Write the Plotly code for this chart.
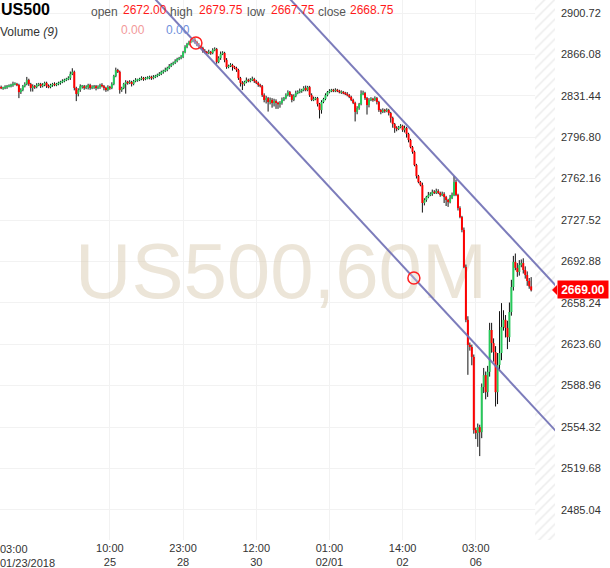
import plotly.graph_objects as go

# ---------------- data (US500, 60 minute bars) ----------------
first_open = 2838.5
closes = [
    2838.0, 2838.0, 2838.75, 2839.5, 2839.5, 2840.5, 2841.25, 2841.25, 2840.5, 2834.5,
    2836.25, 2839.5, 2841.25, 2844.75, 2841.25, 2838.0, 2839.5, 2838.75, 2840.5, 2841.25,
    2839.5, 2840.5, 2842.25, 2839.5, 2838.75, 2840.5, 2841.25, 2840.5, 2841.25, 2842.25,
    2843.0, 2843.75, 2844.75, 2845.5, 2846.25, 2849.75, 2851.5, 2838.0, 2833.0, 2836.25,
    2839.5, 2839.5, 2838.0, 2838.75, 2840.5, 2838.0, 2838.75, 2839.5, 2838.0, 2838.75,
    2840.5, 2839.5, 2838.0, 2836.25, 2838.75, 2838.0, 2841.25, 2848.0, 2853.0, 2851.5,
    2836.25, 2838.0, 2841.25, 2843.0, 2842.25, 2843.0, 2841.25, 2843.75, 2844.75, 2844.75,
    2845.5, 2846.25, 2845.5, 2846.25, 2846.25, 2847.25, 2846.25, 2847.25, 2848.0, 2849.0,
    2849.75, 2851.5, 2852.25, 2853.0, 2854.75, 2856.5, 2858.0, 2859.0, 2860.5, 2862.25,
    2863.0, 2864.0, 2868.0, 2872.25, 2874.75, 2876.5, 2877.25, 2878.25, 2876.5, 2874.0,
    2872.25, 2871.5, 2869.0, 2868.0, 2867.25, 2868.0, 2867.25, 2869.75, 2870.5, 2859.75,
    2863.0, 2866.5, 2867.25, 2861.5, 2855.5, 2856.5, 2857.25, 2855.5, 2854.75, 2853.0,
    2846.25, 2842.25, 2841.25, 2843.0, 2844.75, 2843.75, 2844.75, 2845.5, 2843.75, 2842.25,
    2840.5, 2839.5, 2832.0, 2828.0, 2829.5, 2826.25, 2828.0, 2825.5, 2827.0, 2825.5,
    2824.5, 2825.5, 2828.0, 2829.5, 2832.0, 2834.5, 2832.0, 2828.0, 2831.25, 2833.75,
    2834.5, 2835.5, 2836.25, 2838.0, 2836.25, 2838.75, 2832.0, 2828.0, 2828.75, 2829.5,
    2824.5, 2819.5, 2826.25, 2828.75, 2832.0, 2834.5, 2835.5, 2836.25, 2835.5, 2836.25,
    2835.5, 2834.5, 2834.5, 2833.75, 2833.0, 2832.0, 2830.5, 2828.0, 2825.5, 2818.0,
    2821.25, 2824.5, 2833.0, 2833.75, 2829.5, 2823.75, 2828.0, 2828.75, 2828.0, 2829.5,
    2826.25, 2819.5, 2818.0, 2819.5, 2818.75, 2819.5, 2817.0, 2813.0, 2807.75, 2804.5,
    2803.75, 2805.25, 2806.25, 2802.75, 2804.5, 2799.5, 2794.5, 2788.5, 2784.5, 2773.5,
    2764.25, 2759.25, 2756.75, 2741.75, 2744.25, 2746.75, 2748.5, 2749.25, 2751.0, 2750.25,
    2751.75, 2750.25, 2748.5, 2749.25, 2746.75, 2744.25, 2742.5, 2746.0, 2748.5, 2759.25,
    2748.5, 2737.5, 2730.0, 2719.25, 2688.25, 2644.0, 2623.0, 2621.25, 2613.0, 2551.75,
    2549.25, 2554.25, 2550.0, 2587.75, 2597.75, 2583.5, 2600.5, 2635.5, 2624.5, 2617.0,
    2583.5, 2606.25, 2616.25, 2638.0, 2644.0, 2637.25, 2629.5, 2650.5, 2671.5, 2692.5,
    2687.5, 2684.0, 2690.0, 2691.5, 2685.75, 2681.5, 2676.5, 2672.0, 2668.75,
]
wick_up = [
    1.5, 1, 1.5, 1, 1.5, 1, 2, 1.5, 1, 1,
    1.5, 1, 1.5, 2.5, 1, 1, 1.5, 1, 1.5, 1,
    1, 1.5, 1, 1, 1.5, 1, 1, 1.5, 1, 1,
    1, 1.5, 1, 1, 1.5, 2, 3, 1, 1, 1.5,
    1.5, 1, 1, 1.5, 1, 1, 1.5, 1, 1, 1.5,
    1, 1.5, 1, 1, 1.5, 1, 1.5, 1, 2, 1,
    1, 1, 1, 1.5, 1, 1.5, 1, 1, 1.5, 1,
    1, 1.5, 1, 1, 1.5, 1, 1, 1.5, 1, 1,
    1.5, 1, 1, 2, 1, 1.5, 1, 1, 1.5, 1,
    1, 1.5, 1, 1.5, 1, 1, 1.5, 1, 1.5, 1,
    1.5, 1, 1, 1.5, 1, 2, 1, 1.5, 1.5, 1,
    1.5, 2, 1.5, 1, 1.5, 1, 1.5, 1, 1, 1,
    1, 1, 1.5, 1, 2, 1, 1.5, 2, 1, 1,
    1, 1, 1, 1.5, 2, 1, 2, 1.5, 2, 1.5,
    1, 1.5, 2, 1, 1.5, 1.5, 1, 1, 1.5, 2,
    1.5, 2, 1, 1.5, 2, 1, 1, 1.5, 2, 1,
    1, 1, 1.5, 1, 1.5, 1, 1.5, 1, 1, 1.5,
    1, 1, 1.5, 1, 1, 1.5, 1, 1, 1, 1,
    1.5, 1, 3, 2, 1, 1, 1.5, 1.5, 1, 1.5,
    1, 1, 1, 1.5, 1, 1.5, 1, 1, 1, 1,
    1.5, 1, 1.5, 1, 2, 1, 1, 1, 1, 1,
    1, 1, 1, 2, 1.5, 1, 2.5, 1.5, 2, 1.5,
    2, 1.5, 1, 2, 1.5, 1, 1, 2.5, 2, 5,
    2, 1, 1.5, 1, 2, 2, 3, 2, 2, 2,
    2, 3, 2, 3, 6, 3, 5, 6, 6, 4,
    5, 10, 35, 20, 8, 4, 6, 8, 6, 5,
    7, 4, 4, 3, 4, 3, 3, 2.5, 7.75,
]
wick_dn = [
    1, 1.5, 1, 1.5, 1, 1, 1.5, 1, 1, 5,
    1.5, 1, 1, 1, 1.5, 3, 3, 1.5, 1, 1,
    1.5, 1, 1, 1.5, 1, 1, 1.5, 1, 1, 1,
    1.5, 1, 1, 1, 1, 1.5, 1, 2, 6, 2,
    1.5, 2, 1.5, 1, 2, 1.5, 1, 1.5, 2, 1,
    1.5, 1, 2, 1.5, 1, 1.5, 1, 1, 1, 1,
    3, 1.5, 1, 8, 1.5, 1, 2, 1, 1, 1.5,
    1, 1, 1.5, 1, 1, 1, 1.5, 1, 1, 1,
    1, 1, 1.5, 1, 1, 1, 1, 1, 1, 1,
    1, 1, 1, 1, 1, 1, 1, 1, 1.5, 1,
    1, 1, 1.5, 1, 1, 1, 1.5, 1, 1, 1.5,
    1, 1.5, 1, 2, 1.5, 1, 1, 3, 1, 1.5,
    1.5, 3, 5, 1.5, 1, 1, 1, 1, 1.5, 1,
    1.5, 1, 1.5, 2, 3, 8, 2, 4, 3, 5,
    4, 3, 1.5, 1, 1, 1, 1.5, 2, 1, 1,
    1, 1, 1.5, 1, 1, 1, 1.5, 1, 1, 1,
    2, 7, 3, 1, 1, 1, 1, 1, 1, 1,
    1, 1, 1.5, 1, 1, 1, 1, 1, 1, 8,
    2, 1.5, 1, 1, 1.5, 8, 2, 1, 1.5, 1,
    2, 1.5, 2, 1, 1.5, 1, 2, 4, 3, 4,
    2, 1, 1, 1.5, 2, 3, 2, 1, 1.5, 1,
    2, 1, 1, 8, 2, 1.5, 1, 1, 1.5, 1,
    1, 1, 1.5, 1, 5, 5, 4, 1, 1, 1,
    1, 2, 1, 2, 1, 2, 25, 3, 7, 3,
    5, 11.5, 20, 5, 5, 6, 4, 4, 8, 8,
    12, 10, 5, 6, 3, 8, 10, 4, 3, 3,
    2, 4, 3, 2, 3, 3, 4, 2, 1,
]

# trend channel drawn on the chart (bar index, price)
channel_lower_x = [70.0, 290.0]
channel_lower_y = [2926.4, 2534.0]
channel_upper_x = [140.0, 290.0]
channel_upper_y = [2923.2, 2655.6]
anchor_x = [98.5, 208.7]
anchor_y = [2875.6, 2679.0]

last_price = 2669.00

# axis ticks
y_ticks = [2900.72, 2866.08, 2831.44, 2796.80, 2762.16, 2727.52, 2692.88,
           2658.24, 2623.60, 2588.96, 2554.32, 2519.68, 2485.04]
x_tick_bars = [55, 92, 129, 166, 203, 240]
x_tick_text = ["10:00<br>25", "23:00<br>28", "12:00<br>30", "01:00<br>02/01",
               "14:00<br>02", "03:00<br>06"]
first_tick_text = "03:00<br>01/23/2018"

# header legend
hdr_labels = ["open", "high", "low", "close"]
hdr_values = ["2672.00", "2679.75", "2667.75", "2668.75"]
vol_values = ["0.00", "0.00"]

# ---------------- derived ----------------
n = len(closes)
opens = [first_open] + closes[:-1]
highs = [max(o, c) + u for o, c, u in zip(opens, closes, wick_up)]
lows = [min(o, c) - d for o, c, d in zip(opens, closes, wick_dn)]

X_RANGE = [-0.56, 280.05]
Y_RANGE = [2459.8, 2911.6]
PLOT_W, PLOT_H = 555, 540

FONT = "Liberation Sans, Arial, Helvetica, sans-serif"
GREEN = "#26c95a"
RED = "#ff0000"

fig = go.Figure()

# future (hatched) area
fig.add_trace(go.Bar(
    x=[(270.0 + X_RANGE[1]) / 2], y=[Y_RANGE[1] - Y_RANGE[0]], base=[Y_RANGE[0]],
    width=[X_RANGE[1] - 270.0],
    marker=dict(color="white", line=dict(width=0),
                pattern=dict(shape="/", fgcolor="#d9d9d9", bgcolor="white",
                             size=7, solidity=0.22)),
    hoverinfo="skip"))

# watermark
wm_x = X_RANGE[0] + (281 / PLOT_W) * (X_RANGE[1] - X_RANGE[0])
wm_y = Y_RANGE[1] - (278 / PLOT_H) * (Y_RANGE[1] - Y_RANGE[0])
fig.add_trace(go.Scatter(
    x=[wm_x], y=[wm_y], mode="text", text=["US500,60M"],
    textposition="middle center",
    textfont=dict(family=FONT, size=78, color="rgba(212,198,168,0.45)"),
    hoverinfo="skip"))

# wicks
wx, wy = [], []
for i in range(n):
    wx += [i, i, None]
    wy += [lows[i], highs[i], None]
fig.add_trace(go.Scatter(x=wx, y=wy, mode="lines",
                         line=dict(color="#111111", width=1), hoverinfo="skip"))

# bodies
def bodies(up):
    bx, by = [], []
    for i in range(n):
        o, c = opens[i], closes[i]
        if (c >= o) != up:
            continue
        lo, hi = min(o, c), max(o, c)
        if hi - lo < 1.2:
            m = (hi + lo) / 2
            lo, hi = m - 0.6, m + 0.6
        bx += [i, i, None]
        by += [lo, hi, None]
    return bx, by

gx, gy = bodies(True)
rx, ry = bodies(False)
fig.add_trace(go.Scatter(x=gx, y=gy, mode="lines", line=dict(color=GREEN, width=2),
                         hoverinfo="skip"))
fig.add_trace(go.Scatter(x=rx, y=ry, mode="lines", line=dict(color=RED, width=2),
                         hoverinfo="skip"))

# channel lines
for lx, ly in ((channel_lower_x, channel_lower_y), (channel_upper_x, channel_upper_y)):
    fig.add_trace(go.Scatter(x=lx, y=ly, mode="lines",
                             line=dict(color="rgba(110,110,180,0.9)", width=2),
                             hoverinfo="skip"))
fig.add_trace(go.Scatter(x=anchor_x, y=anchor_y, mode="markers",
                         marker=dict(symbol="circle", size=12,
                                     color="rgba(255,255,255,0.25)",
                                     line=dict(color="#ff2020", width=1.5)),
                         hoverinfo="skip"))

# ---------------- annotations ----------------
def px(xp):
    return xp / PLOT_W

def py(yp):
    return 1 - yp / PLOT_H

ann = []
ann.append(dict(text="<b>US500</b>", x=px(-1), y=py(10), font=dict(size=16, color="#000")))
hdr_lab_x = [91, 170, 247, 318]
hdr_val_x = [123, 199, 271, 350]
for lab, lx_ in zip(hdr_labels, hdr_lab_x):
    ann.append(dict(text=lab, x=px(lx_ - 2), y=py(12), font=dict(size=12, color="#555")))
for val, vx in zip(hdr_values, hdr_val_x):
    ann.append(dict(text=val, x=px(vx - 2), y=py(10), font=dict(size=12, color="#ff1a1a")))
ann.append(dict(text="Volume <i>(9)</i>", x=px(-2), y=py(32), font=dict(size=12, color="#333")))
ann.append(dict(text=vol_values[0], x=px(119), y=py(30), font=dict(size=12, color="#f29a9a")))
ann.append(dict(text=vol_values[1], x=px(164), y=py(30), font=dict(size=12, color="#6f8fdc")))
for a in ann:
    a.update(xref="paper", yref="paper", xanchor="left", yanchor="middle",
             showarrow=False)
    a["font"]["family"] = FONT

ann.append(dict(text=first_tick_text, xref="paper", yref="paper", x=px(-2), y=py(541),
                xanchor="left", yanchor="top", align="left", showarrow=False,
                font=dict(family=FONT, size=11, color="#333")))
ann.append(dict(text="<b>" + f"{last_price:.2f}" + "</b>", xref="paper", yref="y",
                x=1 + 1.5 / PLOT_W, y=last_price, xanchor="left", yanchor="middle",
                width=48, height=15, align="center", showarrow=False,
                bgcolor=RED, borderpad=1,
                font=dict(family=FONT, size=12, color="white")))

ppt = PLOT_H / (Y_RANGE[1] - Y_RANGE[0])
tri = (f"M {1 - 3 / PLOT_W} {last_price} L {1 + 2 / PLOT_W} {last_price + 5 / ppt} "
       f"L {1 + 2 / PLOT_W} {last_price - 5 / ppt} Z")
shapes = [dict(type="path", xref="paper", yref="y", path=tri,
               fillcolor=RED, line=dict(width=0))]

fig.update_layout(
    width=610, height=568,
    margin=dict(l=0, r=55, t=0, b=28),
    paper_bgcolor="white", plot_bgcolor="white",
    showlegend=False, barmode="overlay",
    annotations=ann, shapes=shapes,
    font=dict(family=FONT, size=11, color="#333"),
    xaxis=dict(range=X_RANGE, tickvals=x_tick_bars, ticktext=x_tick_text,
               showgrid=True, gridcolor="#f2f2f2", gridwidth=1, zeroline=False,
               showline=False, ticks="", tickfont=dict(family=FONT, size=11, color="#333"),
               automargin=False, fixedrange=True),
    yaxis=dict(range=Y_RANGE, side="right", tickvals=y_ticks,
               ticktext=[f"{v:.2f}" for v in y_ticks],
               showgrid=True, gridcolor="#f2f2f2", gridwidth=1, zeroline=False,
               showline=False, ticks="", ticklabelstandoff=5,
               tickfont=dict(family=FONT, size=11, color="#333"),
               automargin=False, fixedrange=True),
)

fig.write_html(
    "out.html",
    config={"displayModeBar": False},
    post_script="document.body.style.margin='0';document.body.style.padding='0';"
                "document.body.style.overflow='hidden';",
)
